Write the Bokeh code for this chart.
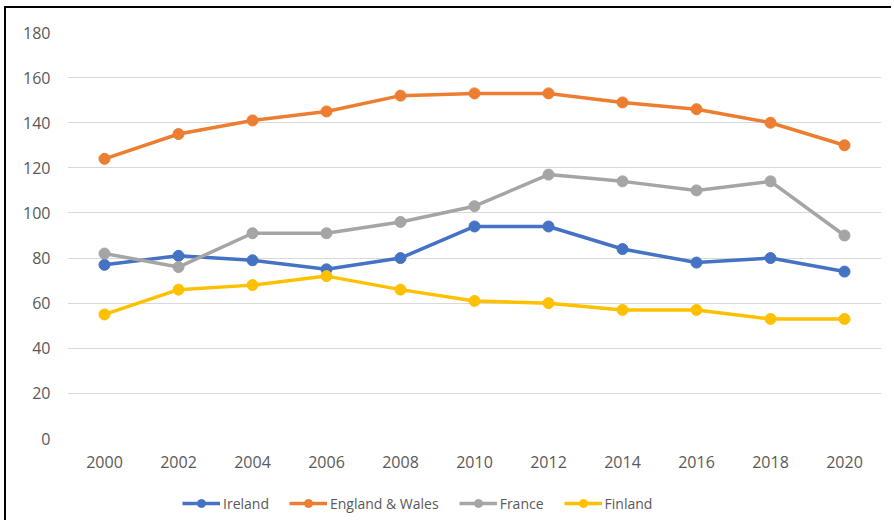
from bokeh.plotting import figure
from bokeh.models import Legend, LegendItem, FixedTicker, Range1d
from bokeh.layouts import column
from bokeh.embed import file_html
from bokeh.resources import INLINE

years = [2000, 2002, 2004, 2006, 2008, 2010, 2012, 2014, 2016, 2018, 2020]
ireland = [77, 81, 79, 75, 80, 94, 94, 84, 78, 80, 74]
england_wales = [124, 135, 141, 145, 152, 153, 153, 149, 146, 140, 130]
france = [82, 76, 91, 91, 96, 103, 117, 114, 110, 114, 90]
finland = [55, 66, 68, 72, 66, 61, 60, 57, 57, 53, 53]
y_ticks = [0, 20, 40, 60, 80, 100, 120, 140, 160, 180]

series = [
    ("Ireland", ireland, "#4472C4"),
    ("England & Wales", england_wales, "#ED7D31"),
    ("France", france, "#A5A5A5"),
    ("Finland", finland, "#FFC000"),
]

FONT = "Open Sans"
TXT = "#595959"

p = figure(width=885, height=472, output_backend="svg", toolbar_location=None,
           x_range=Range1d(1999, 2021), y_range=Range1d(0, 180),
           min_border_left=61, min_border_right=10, min_border_top=24, min_border_bottom=42)
p.outline_line_color = None
p.background_fill_color = "white"
p.border_fill_color = "white"

p.xgrid.grid_line_color = None
p.ygrid.grid_line_color = "#D9D9D9"
p.ygrid.grid_line_width = 1

p.xaxis.ticker = FixedTicker(ticks=years)
p.yaxis.ticker = FixedTicker(ticks=y_ticks)
for ax in (p.xaxis, p.yaxis):
    ax.axis_line_color = None
    ax.major_tick_line_color = None
    ax.minor_tick_line_color = None
    ax.major_tick_out = 0
    ax.major_tick_in = 0
    ax.major_label_text_font = FONT
    ax.major_label_text_font_size = "16px"
    ax.major_label_text_color = TXT
p.yaxis.major_label_standoff = 17
p.xaxis.major_label_standoff = 17

for name, vals, col in series:
    p.line(years, vals, line_color=col, line_width=3.5)
    p.scatter(years, vals, size=11, fill_color=col, line_color=col)

# legend strip (same series, drawn only as legend swatches)
q = figure(width=885, height=40, output_backend="svg", toolbar_location=None,
           x_range=Range1d(0, 1), y_range=Range1d(0, 1),
           x_axis_location=None, y_axis_location=None,
           min_border_left=0, min_border_right=0, min_border_top=0, min_border_bottom=0)
q.grid.visible = False
q.outline_line_color = None
items = []
for name, vals, col in series:
    r1 = q.line(years, vals, line_color=col, line_width=3.5)
    r2 = q.scatter(years, vals, size=11, fill_color=col, line_color=col)
    items.append(LegendItem(label=name, renderers=[r1, r2]))
legend = Legend(items=items, orientation="horizontal", location=(115, 7),
                glyph_width=38, glyph_height=20, label_height=20, label_standoff=3,
                spacing=20, padding=0, margin=0,
                border_line_alpha=0, background_fill_alpha=0,
                label_text_font=FONT, label_text_font_size="14px", label_text_color=TXT)
q.add_layout(legend, "center")

layout = column(p, q, spacing=0)
layout.styles = {"margin-left": "4px", "margin-top": "6px",
                 "border-left": "2px solid black", "border-top": "2px solid black"}

open("out.html", "w").write(file_html(layout, INLINE))
